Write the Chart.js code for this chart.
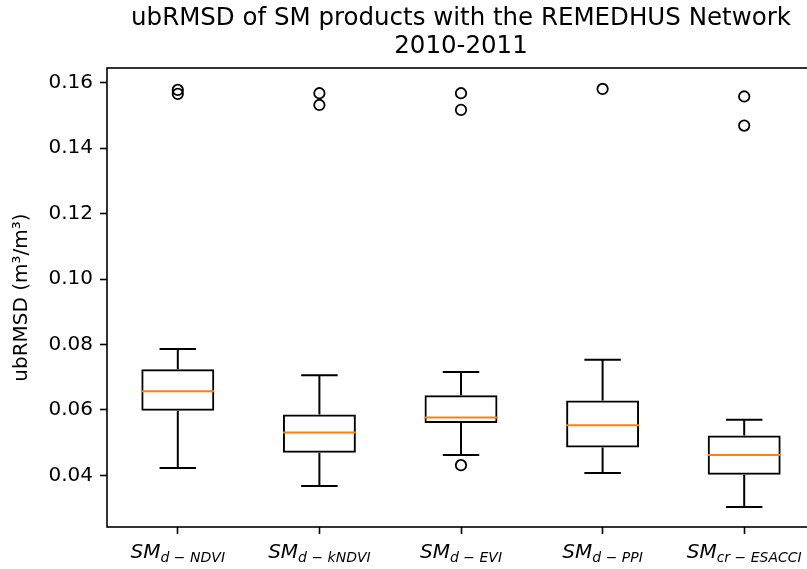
<!DOCTYPE html>
<html>
<head>
<meta charset="utf-8">
<script src="https://cdn.jsdelivr.net/npm/chart.js@4.4.1/dist/chart.umd.min.js"></script>
<style>
  html, body { margin: 0; padding: 0; overflow: hidden; background: #fff; }
  #wrap { width: 840px; height: 569px; position: relative; }
</style>
</head>
<body>
<div id="wrap"><canvas id="chart"></canvas></div>
<script>
// values
const categories = ['SM_d-NDVI', 'SM_d-kNDVI', 'SM_d-EVI', 'SM_d-PPI', 'SM_cr-ESACCI'];
const labelMain = ['SM', 'SM', 'SM', 'SM', 'SM'];
const labelSub = ['d \u2212 NDVI', 'd \u2212 kNDVI', 'd \u2212 EVI', 'd \u2212 PPI', 'cr \u2212 ESACCI'];

const whiskerLow = [0.0422, 0.0367, 0.0462, 0.0407, 0.0303];
const q1 = [0.0597, 0.0469, 0.0560, 0.0485, 0.0402];
const median = [0.0657, 0.0531, 0.0577, 0.0553, 0.0462];
const q3 = [0.0724, 0.0586, 0.0645, 0.0629, 0.0522];
const whiskerHigh = [0.0786, 0.0706, 0.0716, 0.0753, 0.0570];
const outliers = [
  [0.1578, 0.1566],
  [0.1568, 0.1532],
  [0.1568, 0.1517, 0.0431],
  [0.1581],
  [0.1558, 0.1469]
];

const yTicks = [0.04, 0.06, 0.08, 0.10, 0.12, 0.14, 0.16];
const titleLines = ['ubRMSD of SM products with the REMEDHUS Network', '2010-2011'];
const yTitle = 'ubRMSD (m\u00b3/m\u00b3)';

Chart.defaults.font.family = '"DejaVu Sans", sans-serif';
Chart.defaults.color = '#000';

const outlierPoints = [];
outliers.forEach((list, i) => {
  list.forEach(v => outlierPoints.push({ x: categories[i], y: v }));
});

// whiskers, caps and medians, placed with the chart scales
const boxPlugin = {
  id: 'boxExtras',
  afterDatasetsDraw(chart) {
    const ctx = chart.ctx;
    const ys = chart.scales.y;
    const bars = chart.getDatasetMeta(0).data;
    ctx.save();
    ctx.lineWidth = 2;
    ctx.lineCap = 'butt';
    bars.forEach((bar, i) => {
      const x = bar.x;
      const half = bar.width / 2;
      const capHalf = bar.width / 4;
      ctx.strokeStyle = '#000';
      ctx.beginPath();
      ctx.moveTo(x, ys.getPixelForValue(q1[i]));
      ctx.lineTo(x, ys.getPixelForValue(whiskerLow[i]));
      ctx.moveTo(x, ys.getPixelForValue(q3[i]));
      ctx.lineTo(x, ys.getPixelForValue(whiskerHigh[i]));
      ctx.moveTo(x - capHalf, ys.getPixelForValue(whiskerLow[i]));
      ctx.lineTo(x + capHalf, ys.getPixelForValue(whiskerLow[i]));
      ctx.moveTo(x - capHalf, ys.getPixelForValue(whiskerHigh[i]));
      ctx.lineTo(x + capHalf, ys.getPixelForValue(whiskerHigh[i]));
      ctx.stroke();
      ctx.strokeStyle = '#ff7f0e';
      ctx.beginPath();
      const my = ys.getPixelForValue(median[i]);
      ctx.moveTo(x - half, my);
      ctx.lineTo(x + half, my);
      ctx.stroke();
    });
    ctx.restore();
  },
  afterDraw(chart) {
    const ctx = chart.ctx;
    const area = chart.chartArea;
    const xs = chart.scales.x;
    ctx.save();
    // axes frame
    ctx.strokeStyle = '#000';
    ctx.lineWidth = 1.6;
    ctx.strokeRect(area.left, area.top, area.right - area.left, area.bottom - area.top);
    // title
    ctx.fillStyle = '#000';
    ctx.textAlign = 'center';
    ctx.textBaseline = 'alphabetic';
    ctx.font = '24.5px "DejaVu Sans"';
    const cx = (area.left + area.right) / 2;
    ctx.fillText(titleLines[0], cx, 25);
    ctx.fillText(titleLines[1], cx, 53);
    // category labels with subscripts
    ctx.textAlign = 'left';
    const mainFont = 'italic 20px "DejaVu Sans"';
    const subFont = 'italic 14px "DejaVu Sans"';
    categories.forEach((c, i) => {
      const x = xs.getPixelForTick(i);
      ctx.font = mainFont;
      const wm = ctx.measureText(labelMain[i]).width;
      ctx.font = subFont;
      const wsub = ctx.measureText(labelSub[i]).width;
      const start = x - (wm + wsub) / 2;
      ctx.font = mainFont;
      ctx.fillText(labelMain[i], start, 558);
      ctx.font = subFont;
      ctx.fillText(labelSub[i], start + wm, 562);
    });
    ctx.restore();
  }
};

const tickGrid = {
  display: true,
  drawOnChartArea: false,
  drawTicks: true,
  tickLength: 7,
  tickWidth: 1.6,
  tickColor: '#000'
};

new Chart(document.getElementById('chart'), {
  type: 'bar',
  data: {
    labels: categories,
    datasets: [
      {
        type: 'bar',
        data: categories.map((c, i) => [q1[i], q3[i]]),
        backgroundColor: 'rgba(0,0,0,0)',
        borderColor: '#000',
        borderWidth: 2,
        borderSkipped: false,
        barPercentage: 0.515,
        categoryPercentage: 1
      },
      {
        type: 'scatter',
        data: outlierPoints,
        pointStyle: 'circle',
        pointRadius: 5.2,
        pointBackgroundColor: 'rgba(0,0,0,0)',
        pointBorderColor: '#000',
        pointBorderWidth: 1.8,
        showLine: false
      }
    ]
  },
  options: {
    responsive: true,
    maintainAspectRatio: false,
    animation: false,
    layout: { padding: { left: 0, right: 25, top: 68, bottom: 0 } },
    plugins: {
      legend: { display: false },
      tooltip: { enabled: false },
      title: { display: false }
    },
    scales: {
      x: {
        type: 'category',
        offset: true,
        grid: Object.assign({}, tickGrid, { offset: false }),
        border: { display: false },
        ticks: { callback: () => '', padding: 0 },
        afterFit: s => { s.height = 42; }
      },
      y: {
        type: 'linear',
        min: 0.0242,
        max: 0.1645,
        grid: tickGrid,
        border: { display: false },
        afterBuildTicks: s => { s.ticks = yTicks.map(v => ({ value: v })); },
        ticks: {
          callback: v => Number(v).toFixed(2),
          font: { size: 20 },
          color: '#000',
          padding: 7
        },
        title: {
          display: true,
          text: yTitle,
          font: { size: 20 },
          color: '#000',
          padding: { top: 10, bottom: 0 }
        },
        afterFit: s => { s.width = 107; }
      }
    }
  },
  plugins: [boxPlugin]
});
</script>
</body>
</html>
